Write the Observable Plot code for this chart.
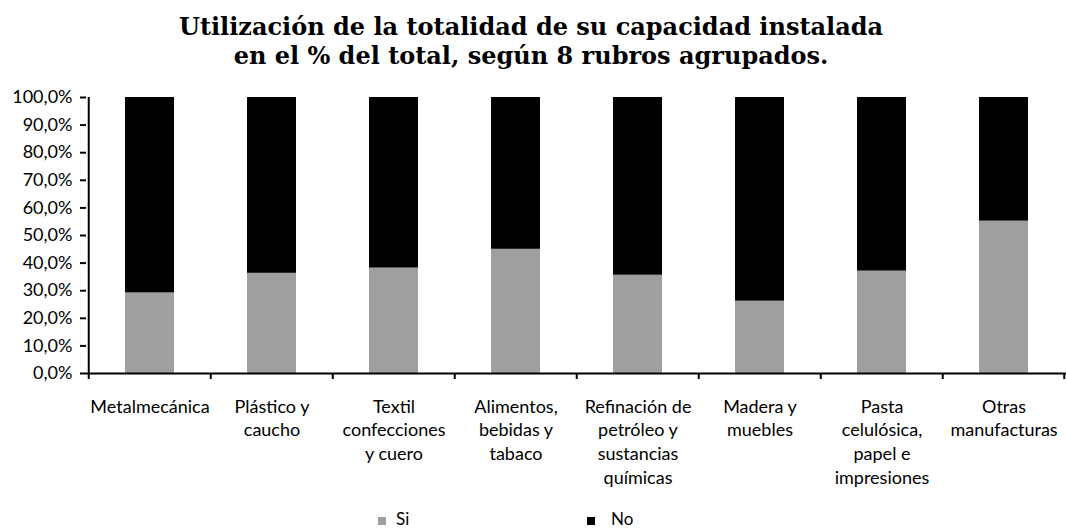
<!DOCTYPE html>
<html>
<head>
<meta charset="utf-8">
<script src="https://cdn.jsdelivr.net/npm/d3@7"></script>
<script src="https://cdn.jsdelivr.net/npm/@observablehq/plot@0.6"></script>
<style>
  html, body { margin: 0; padding: 0; background: #fff; }
  #wrap { width: 1066px; height: 531px; position: relative; overflow: hidden; }
  #title { height: 85px; box-sizing: border-box; padding-top: 12px; text-align: center;
    font-family: "DejaVu Serif", serif; font-weight: bold; font-size: 24px; line-height: 29px; color: #000;
    width: 1062px; white-space: nowrap; }
  #legend { position: relative; height: 26px; font-family: Lato, sans-serif; font-size: 17px; color: #000; }
  .sw { position: absolute; top: 12px; width: 8px; height: 8px; }
  .lt { position: absolute; top: 4px; line-height: 20px; }
</style>
</head>
<body>
<div id="wrap">
  <div id="title">Utilización de la totalidad de su capacidad instalada<br>en el % del total, según 8 rubros agrupados.</div>
  <div id="chart"></div>
  <div id="legend"></div>
</div>
<script>
const categories = ["Metalmecánica", "Plástico y caucho", "Textil confecciones y cuero", "Alimentos, bebidas y tabaco",
  "Refinación de petróleo y sustancias químicas", "Madera y muebles", "Pasta celulósica, papel e impresiones", "Otras manufacturas"];
const categoryLabels = ["Metalmecánica", "Plástico y\ncaucho", "Textil\nconfecciones\ny cuero", "Alimentos,\nbebidas y\ntabaco",
  "Refinación de\npetróleo y\nsustancias\nquímicas", "Madera y\nmuebles", "Pasta\ncelulósica,\npapel e\nimpresiones", "Otras\nmanufacturas"];
const series = ["Si", "No"];
const siValues = [29.2, 36.3, 38.2, 45.0, 35.6, 26.2, 37.1, 55.2];
const noValues = [70.8, 63.7, 61.8, 55.0, 64.4, 73.8, 62.9, 44.8];
const yTicks = [0, 10, 20, 30, 40, 50, 60, 70, 80, 90, 100];
const colors = ["#9f9f9d", "#000000"];

const data = [];
categories.forEach((c, i) => {
  data.push({cat: c, series: "Si", value: siValues[i]});
  data.push({cat: c, series: "No", value: noValues[i]});
});
const labelOf = new Map(categories.map((c, i) => [c, categoryLabels[i]]));

const W = 1066, ML = 86, MR = 0;
const step = (W - ML - MR) / categories.length;

const chart = Plot.plot({
  width: W, height: 420,
  marginLeft: ML, marginRight: MR, marginTop: 12, marginBottom: 132,
  style: {fontFamily: "Lato, sans-serif", fontSize: "18px", color: "#000", background: "#fff", overflow: "visible"},
  x: {domain: categories, paddingInner: 0.6, paddingOuter: 0.3, label: null},
  y: {domain: [0, 100], label: null},
  color: {domain: series, range: colors},
  marks: [
    Plot.barY(data, {x: "cat", y: "value", fill: "series", order: series}),
    Plot.axisY({ticks: yTicks, tickSize: 6, tickPadding: 8, strokeWidth: 2,
      tickFormat: d => d.toFixed(1).replace(".", ",") + "%", label: null, fontSize: 18}),
    Plot.axisX({tickSize: 0, tickPadding: 22, lineHeight: 1.33, tickFormat: c => labelOf.get(c), label: null, fontSize: 18}),
    Plot.ruleY([0], {stroke: "#000", strokeWidth: 2}),
    Plot.ruleX([categories[0]], {y1: 0, y2: 100, dx: -step / 2, stroke: "#000", strokeWidth: 2}),
    Plot.ruleX(categories, {y1: 0, y2: 0, insetBottom: -6, dx: -step / 2, stroke: "#000", strokeWidth: 2}),
    Plot.ruleX([categories[categories.length - 1]], {y1: 0, y2: 0, insetBottom: -6, dx: step / 2 - 1, stroke: "#000", strokeWidth: 2})
  ]
});
document.getElementById("chart").appendChild(chart);

const legend = document.getElementById("legend");
const swatchLeft = [378, 587];
const textLeft = [396, 611];
series.forEach((s, i) => {
  const sw = document.createElement("span");
  sw.className = "sw";
  sw.style.left = swatchLeft[i] + "px";
  sw.style.background = colors[i];
  legend.appendChild(sw);
  const t = document.createElement("span");
  t.className = "lt";
  t.style.left = textLeft[i] + "px";
  t.textContent = s;
  legend.appendChild(t);
});
</script>
</body>
</html>
